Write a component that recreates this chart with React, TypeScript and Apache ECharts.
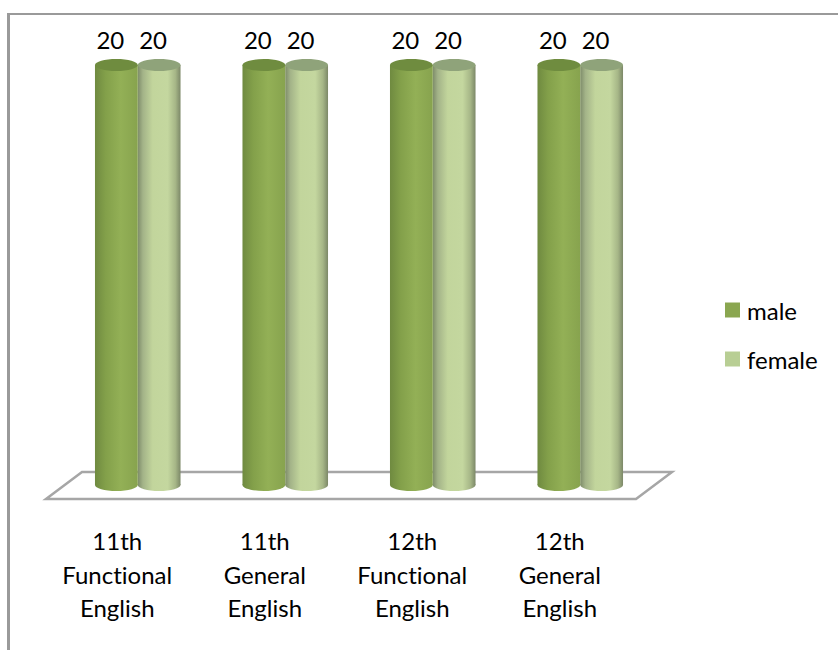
import React, { useEffect, useRef } from "react";
import * as echarts from "echarts";

const categories = [
  "11th\nFunctional\nEnglish",
  "11th\nGeneral\nEnglish",
  "12th\nFunctional\nEnglish",
  "12th\nGeneral\nEnglish",
];
const maleValues = [20, 20, 20, 20];
const femaleValues = [20, 20, 20, 20];

const FONT = "Lato, 'Open Sans', sans-serif";
const FRAME = "#9a9a9a";
const FLOOR = "#a6a6a6";

const shade = (stops: [number, string][]) =>
  new echarts.graphic.LinearGradient(
    0,
    0,
    1,
    0,
    stops.map(([offset, color]) => ({ offset, color })),
  );

const maleBody: [number, string][] = [
  [0, "#6f8a40"],
  [0.25, "#83a04a"],
  [0.6, "#93b056"],
  [1, "#87a34e"],
];
const femaleBody: [number, string][] = [
  [0, "#7e8c6a"],
  [0.12, "#a3b388"],
  [0.35, "#c2d59c"],
  [0.7, "#c4d79f"],
  [0.88, "#a6b687"],
  [1, "#7c8868"],
];

// One cylinder per category: body, rounded foot, elliptical cap, value on top.
const cylinder = (side: number, body: [number, string][], cap: string) =>
  (_params: any, api: any) => {
    const slot = api.size([1, 0])[0];
    const half = slot * 0.145;
    const [cx0, yTop] = api.coord([api.value(0), api.value(1)]);
    const [, yBase] = api.coord([api.value(0), 0]);
    const cx = cx0 + side * half;
    const ry = 6;
    const fill = shade(body);
    return {
      type: "group",
      children: [
        {
          type: "ellipse",
          shape: { cx, cy: yBase, rx: half, ry },
          style: { fill },
        },
        {
          type: "rect",
          shape: { x: cx - half, y: yTop, width: half * 2, height: yBase - yTop },
          style: { fill },
        },
        {
          type: "ellipse",
          shape: { cx, cy: yTop, rx: half, ry },
          style: { fill: cap },
        },
        {
          type: "text",
          style: {
            x: cx - 6,
            y: yTop - 26,
            text: String(api.value(1)),
            font: `24px ${FONT}`,
            fill: "#000000",
            align: "center",
            verticalAlign: "middle",
          },
        },
      ],
    };
  };

export default function App() {
  const ref = useRef<HTMLDivElement>(null);

  useEffect(() => {
    document.body.style.margin = "0";
    const chart = echarts.init(ref.current!, undefined, { renderer: "svg" });
    chart.setOption({
      animation: false,
      backgroundColor: "#ffffff",
      grid: { left: 64, top: 65, width: 590, height: 420 },
      xAxis: {
        type: "category",
        data: categories,
        axisLine: { show: false },
        axisTick: { show: false },
        axisLabel: {
          color: "#000000",
          fontFamily: FONT,
          fontSize: 24,
          lineHeight: 33.5,
          margin: 39,
          padding: [0, 41, 0, 0],
          interval: 0,
        },
      },
      yAxis: { type: "value", min: 0, max: 20, show: false },
      legend: {
        orient: "vertical",
        left: 725,
        top: 298,
        padding: 0,
        itemWidth: 15,
        itemHeight: 15,
        itemGap: 25,
        textStyle: { fontFamily: FONT, fontSize: 24, color: "#000000", padding: [0, 0, 0, 2] },
        data: [
          { name: "male", icon: "rect", itemStyle: { color: "#8aa650" } },
          { name: "female", icon: "rect", itemStyle: { color: "#b8ce94" } },
        ],
      },
      graphic: [
        // Chart frame, open on the right and at the bottom.
        { type: "line", z: 0, shape: { x1: 7, y1: 14, x2: 838, y2: 14 }, style: { stroke: FRAME, lineWidth: 2 } },
        { type: "line", z: 0, shape: { x1: 8.5, y1: 13, x2: 8.5, y2: 650 }, style: { stroke: FRAME, lineWidth: 3 } },
        // Floor of the 3-D plot, behind the cylinders.
        {
          type: "polygon",
          z: 0,
          shape: { points: [[46, 499], [636, 499], [672, 472], [82, 472]] },
          style: { fill: "#ffffff", stroke: FLOOR, lineWidth: 2.5 },
        },
      ],
      series: [
        {
          name: "female",
          type: "custom",
          z: 5,
          clip: false,
          renderItem: cylinder(1, femaleBody, "#8fa37a"),
          encode: { x: 0, y: 1 },
          data: categories.map((_, i) => [i, femaleValues[i]]),
          itemStyle: { color: "#b8ce94" },
        },
        {
          name: "male",
          type: "custom",
          z: 6,
          clip: false,
          renderItem: cylinder(-1, maleBody, "#6f8c3f"),
          encode: { x: 0, y: 1 },
          data: categories.map((_, i) => [i, maleValues[i]]),
          itemStyle: { color: "#8aa650" },
        },
      ],
    });
    return () => chart.dispose();
  }, []);

  return <div ref={ref} style={{ width: 838, height: 650, fontVariantLigatures: "none" }} />;
}
